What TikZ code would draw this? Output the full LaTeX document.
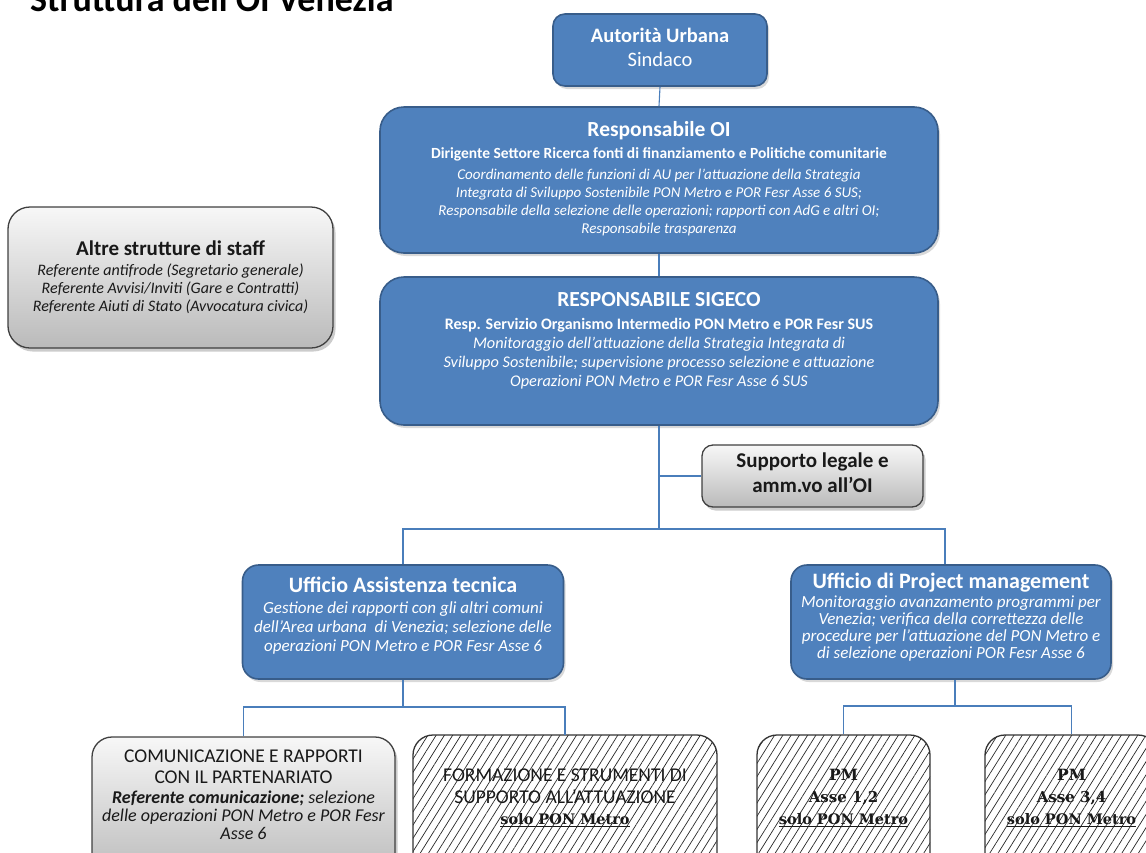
\documentclass[tikz,border=0pt]{standalone}
\usepackage{fontspec}
\setmainfont{Carlito}
\newfontfamily\serifbold{DejaVu Serif}
\usetikzlibrary{shadows,patterns.meta}
\definecolor{boxblue}{HTML}{4F81BD}
\definecolor{boxborder}{HTML}{385D8A}
\definecolor{linkblue}{HTML}{4A7EBB}
\newcommand\fz[1]{\fontsize{#1}{#1}\selectfont}
\begin{document}
\begin{tikzpicture}[x=1pt,y=-1pt,
  bluebox/.style={draw=boxborder, line width=1.6pt, fill=boxblue, rounded corners=14pt,
    drop shadow={shadow xshift=2pt, shadow yshift=-3pt, opacity=0.3}},
  graybox/.style={draw=black!75, line width=1.3pt, top color=black!3, bottom color=black!27,
    rounded corners=16pt, drop shadow={shadow xshift=2.5pt, shadow yshift=-3.5pt, opacity=0.4}},
  hatchbox/.style={draw=black!80, line width=1.3pt, rounded corners=20pt,
    pattern={Lines[angle=58,distance=7pt,line width=0.7pt]}, pattern color=black!85},
  link/.style={draw=linkblue, line width=1.1pt},
  tx/.style={anchor=mid, inner sep=0pt},
  wt/.style={tx, text=white},
  bk/.style={tx, text=black!90},
]
\useasboundingbox (0,0) rectangle (1146,852);

% title
\node[anchor=base west, inner sep=0pt, font=\fz{36}\bfseries] (title) at (30,11) {Struttura dell’OI Venezia};

% boxes
\node[bluebox, rounded corners=12pt, minimum width=214pt, minimum height=72pt] (au) at (660,50) {};
\node[bluebox, rounded corners=24pt, minimum width=558pt, minimum height=146pt] (roi) at (659,180) {};
\node[bluebox, rounded corners=24pt, minimum width=558pt, minimum height=148pt] (sig) at (659,351) {};
\node[graybox, rounded corners=22pt, minimum width=325pt, minimum height=141pt] (alt) at (170.5,277.5) {};
\node[graybox, rounded corners=11pt, minimum width=221pt, minimum height=62pt] (sup) at (812.5,476) {};
\node[bluebox, rounded corners=16pt, minimum width=321pt, minimum height=114pt] (uat) at (403,622) {};
\node[bluebox, rounded corners=16pt, minimum width=320pt, minimum height=114pt] (upm) at (951,622) {};
\node[graybox, rounded corners=20pt, minimum width=303pt, minimum height=142pt] (com) at (243.5,808) {};
\node[hatchbox, minimum width=304pt, minimum height=144pt] (for) at (565,807) {};
\node[hatchbox, minimum width=173pt, minimum height=144pt] (pma) at (843.5,807) {};
\node[hatchbox, minimum width=173pt, minimum height=144pt] (pmb) at (1071.5,807) {};

% connectors
\coordinate (j1) at (659,529);
\coordinate (j2) at (403,707);
\coordinate (j3) at (955,706);
\draw[link] (au.south) -- (roi.north);
\draw[link] (roi.south) -- (sig.north);
\draw[link] (sig.south) -- (j1);
\draw[link] (sup.west) -- (sup.west -| j1);
\draw[link] (uat.north) |- (j1) -| ([xshift=-6pt]upm.north);
\draw[link] ([xshift=4pt]upm.south) -- (j3);
\draw[link] (uat.south) -- (j2);
\draw[link] (com.north) |- (j2) -| (for.north);
\draw[link] (pma.north) |- (j3) -| (pmb.north);

% texts: Autorita Urbana
\node[wt, font=\fz{20.5}\bfseries] (au1) at (660,40) {Autorità Urbana};
\node[wt, font=\fz{20.5}] (au2) at (660,64) {Sindaco};

% Responsabile OI
\node[wt, font=\fz{21.5}\bfseries] (r1) at (659,134) {Responsabile OI};
\node[wt, font=\fz{15.5}\bfseries] (r2) at (659,156) {Dirigente Settore Ricerca fonti di finanziamento e Politiche comunitarie};
\node[wt, font=\fz{15}\itshape] (r3) at (659,177) {Coordinamento delle funzioni di AU per l’attuazione della Strategia};
\node[wt, font=\fz{15}\itshape] (r4) at (659,195) {Integrata di Sviluppo Sostenibile PON Metro e POR Fesr Asse 6 SUS;};
\node[wt, font=\fz{15}\itshape] (r5) at (659,213) {Responsabile della selezione delle operazioni; rapporti con AdG e altri OI;};
\node[wt, font=\fz{15}\itshape] (r6) at (659,231) {Responsabile trasparenza};

% SIGECO
\node[wt, font=\fz{21.5}\bfseries] (s1) at (659,304) {RESPONSABILE SIGECO};
\node[wt, font=\fz{16}\bfseries] (s2) at (659,327) {Resp. Servizio Organismo Intermedio PON Metro e POR Fesr SUS};
\node[wt, font=\fz{16.3}\itshape] (s3) at (659,346) {Monitoraggio dell’attuazione della Strategia Integrata di};
\node[wt, font=\fz{16.3}\itshape] (s4) at (659,365) {Sviluppo Sostenibile; supervisione processo selezione e attuazione};
\node[wt, font=\fz{16.3}\itshape] (s5) at (659,384) {Operazioni PON Metro e POR Fesr Asse 6 SUS};

% Altre strutture
\node[bk, font=\fz{21}\bfseries] (a1) at (170.5,253) {Altre strutture di staff};
\node[bk, font=\fz{16}\itshape] (a2) at (170.5,273) {Referente antifrode (Segretario generale)};
\node[bk, font=\fz{16}\itshape] (a3) at (170.5,291) {Referente Avvisi/Inviti (Gare e Contratti)};
\node[bk, font=\fz{16}\itshape] (a4) at (170.5,309) {Referente Aiuti di Stato (Avvocatura civica)};

% Supporto
\node[bk, font=\fz{21}\bfseries] (p1) at (812.5,465) {Supporto legale e};
\node[bk, font=\fz{21}\bfseries] (p2) at (812.5,490) {amm.vo all’OI};

% Ufficio AT
\node[wt, font=\fz{22}\bfseries] (u1) at (403,590) {Ufficio Assistenza tecnica};
\node[wt, font=\fz{17}\itshape] (u2) at (403,611) {Gestione dei rapporti con gli altri comuni};
\node[wt, font=\fz{17}\itshape] (u3) at (403,630) {dell’Area urbana \ di Venezia; selezione delle};
\node[wt, font=\fz{17}\itshape] (u4) at (403,649) {operazioni PON Metro e POR Fesr Asse 6};

% Ufficio PM
\node[wt, font=\fz{22}\bfseries] (m1) at (951,586) {Ufficio di Project management};
\node[wt, font=\fz{17}\itshape] (m2) at (951,605) {Monitoraggio avanzamento programmi per};
\node[wt, font=\fz{17}\itshape] (m3) at (951,622) {Venezia; verifica della correttezza delle};
\node[wt, font=\fz{17}\itshape] (m4) at (951,639) {procedure per l’attuazione del PON Metro e};
\node[wt, font=\fz{17}\itshape] (m5) at (951,656) {di selezione operazioni POR Fesr Asse 6};

% Comunicazione
\node[bk, font=\fz{19.5}] (c1) at (243.5,760) {COMUNICAZIONE E RAPPORTI};
\node[bk, font=\fz{19.5}] (c2) at (243.5,781) {CON IL PARTENARIATO};
\node[bk, font=\fz{18}\itshape] (c3) at (243.5,801) {\textbf{Referente comunicazione;} selezione};
\node[bk, font=\fz{18}\itshape] (c4) at (243.5,819) {delle operazioni PON Metro e POR Fesr};
\node[bk, font=\fz{18}\itshape] (c5) at (243.5,837) {Asse 6};

% Formazione
\node[bk, font=\fz{19.5}] (f1) at (565,779) {FORMAZIONE E STRUMENTI DI};
\node[bk, font=\fz{19.5}] (f2) at (565,801) {SUPPORTO ALL’ATTUAZIONE};
\node[bk, font=\fz{14.5}\serifbold\bfseries] (f3) at (565,822) {\underline{solo PON Metro}};

% PM boxes
\node[bk, font=\fz{15.5}\serifbold\bfseries] (pa1) at (843.5,778) {PM};
\node[bk, font=\fz{15}\serifbold\bfseries] (pa2) at (843.5,800) {Asse 1,2};
\node[bk, font=\fz{14.5}\serifbold\bfseries] (pa3) at (843.5,822) {\underline{solo PON Metro}};
\node[bk, font=\fz{15.5}\serifbold\bfseries] (pb1) at (1071.5,778) {PM};
\node[bk, font=\fz{15}\serifbold\bfseries] (pb2) at (1071.5,800) {Asse 3,4};
\node[bk, font=\fz{14.5}\serifbold\bfseries] (pb3) at (1071.5,822) {\underline{solo PON Metro}};
\end{tikzpicture}
\end{document}
